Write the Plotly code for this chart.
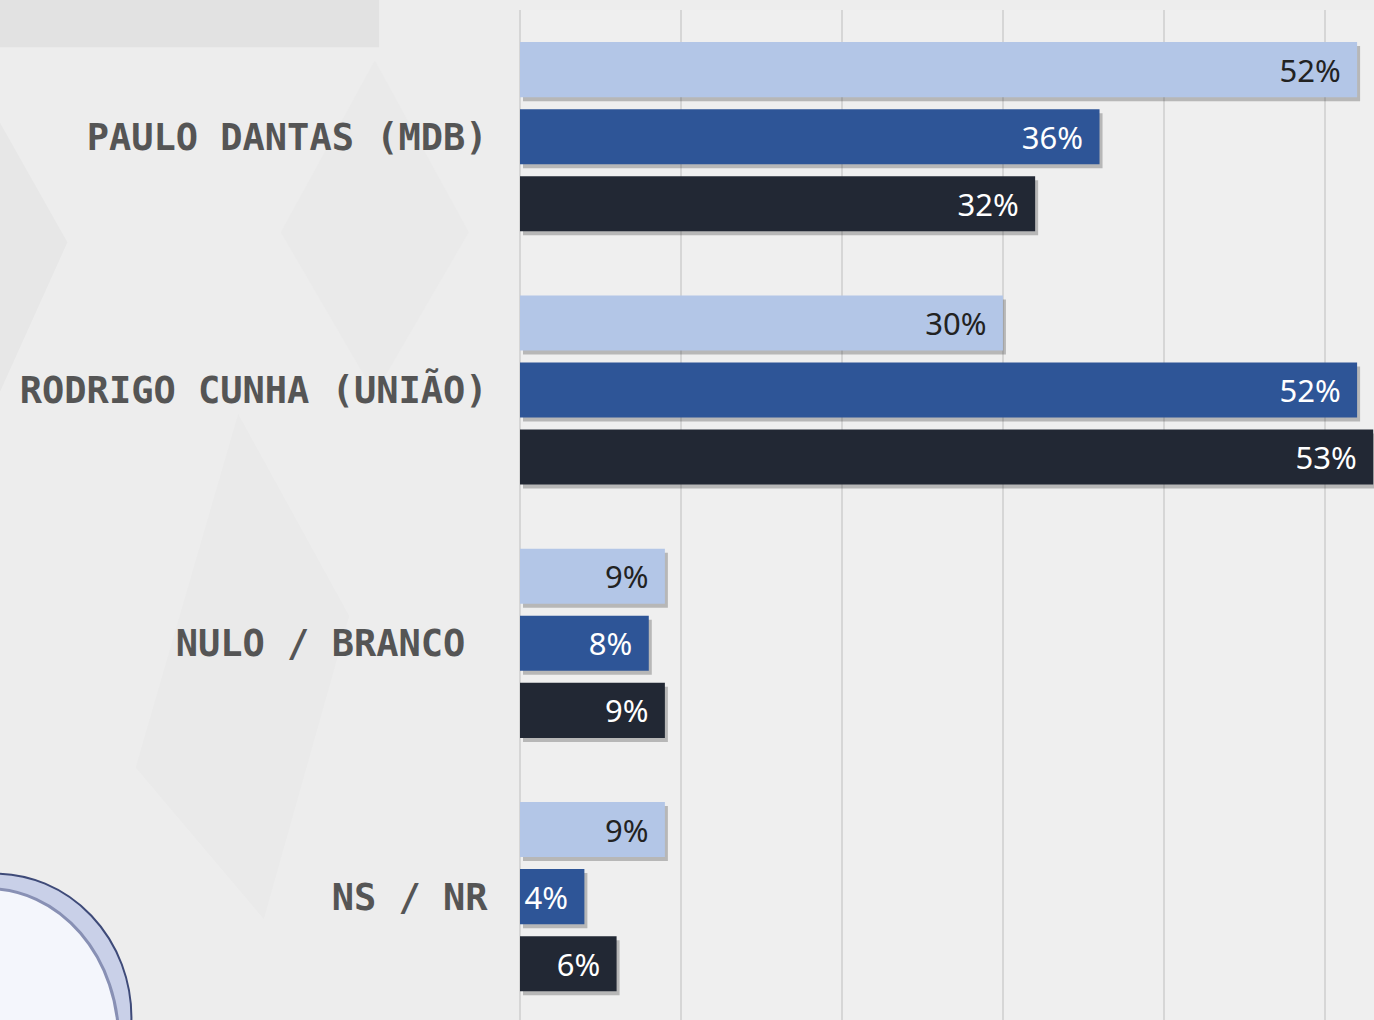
import plotly.graph_objects as go

categories = ["PAULO DANTAS (MDB)", "RODRIGO CUNHA (UNIÃO)", "NULO / BRANCO", "NS / NR"]
tick_labels = ["PAULO DANTAS (MDB)", "RODRIGO CUNHA (UNIÃO)", "NULO / BRANCO\u00a0", "NS / NR"]
series_names = ["Série 1", "Série 2", "Série 3"]
values_1 = [52, 30, 9, 9]
values_2 = [36, 52, 8, 4]
values_3 = [32, 53, 9, 6]

colors = ["#b3c6e7", "#2e5597", "#222834"]
text_colors = ["#222222", "#ffffff", "#ffffff"]

X_RANGE = [0, 53.05]
Y_RANGE = [3.487, -0.5]
PLOT_W, PLOT_H = 854, 1010
shadow_dx_px, shadow_dy_px = 3, 4
dx = shadow_dx_px * (X_RANGE[1] - X_RANGE[0]) / PLOT_W
dy = shadow_dy_px * (Y_RANGE[0] - Y_RANGE[1]) / PLOT_H

fig = go.Figure()

# decorative background shapes (watermark-like)
bg_shapes = [
    dict(type="rect", xref="paper", yref="paper", x0=-0.61, x1=-0.165, y0=0.963, y1=1.01,
         fillcolor="#e2e2e2", line_width=0, layer="below"),
    dict(type="path", xref="paper", yref="paper",
         path="M -0.61 0.89 L -0.53 0.77 L -0.61 0.62 Z",
         fillcolor="#e7e7e7", line_width=0, layer="below"),
    dict(type="path", xref="paper", yref="paper",
         path="M -0.28 0.78 L -0.17 0.95 L -0.06 0.78 L -0.17 0.62 Z",
         fillcolor="#eaeaea", line_width=0, layer="below"),
    dict(type="path", xref="paper", yref="paper",
         path="M -0.45 0.25 L -0.33 0.60 L -0.20 0.40 L -0.30 0.10 Z",
         fillcolor="#eaeaea", line_width=0, layer="below"),
]

# shadows (base axes, shifted)
for name, vals in zip(series_names, [values_1, values_2, values_3]):
    fig.add_trace(go.Bar(
        name=name + " sombra",
        y=categories,
        x=vals,
        orientation="h",
        marker=dict(color="rgba(40,40,40,0.28)", line=dict(width=0)),
        hoverinfo="skip",
        xaxis="x",
        yaxis="y",
    ))

# real bars (overlay axes)
for name, vals, c, tc in zip(series_names, [values_1, values_2, values_3], colors, text_colors):
    fig.add_trace(go.Bar(
        name=name,
        y=categories,
        x=vals,
        orientation="h",
        marker=dict(color=c, line=dict(width=0)),
        text=[f"{v}%\u2004\u200a" for v in vals],
        textposition="inside",
        insidetextanchor="end",
        constraintext="none",
        textfont=dict(family="Noto Sans, Open Sans, sans-serif", size=31, color=tc),
        hoverinfo="skip",
        xaxis="x2",
        yaxis="y2",
    ))

# logo-like sphere at bottom-left
logo_shapes = [
    dict(type="circle", xref="paper", yref="paper", x0=-0.775, x1=-0.455, y0=-0.14, y1=0.145,
         fillcolor="#c9d0e8", line=dict(color="#3e4a78", width=2), layer="above"),
    dict(type="circle", xref="paper", yref="paper", x0=-0.775, x1=-0.47, y0=-0.17, y1=0.13,
         fillcolor="#f4f6fc", line=dict(color="#8890b4", width=3), layer="above"),
]

fig.update_layout(
    width=1374,
    height=1020,
    margin=dict(l=520, r=0, t=10, b=0),
    paper_bgcolor="#ededed",
    plot_bgcolor="#efefef",
    barmode="group",
    bargap=0.206,
    bargroupgap=0.179,
    showlegend=False,
    shapes=bg_shapes + logo_shapes,
    xaxis=dict(
        range=[X_RANGE[0] - dx, X_RANGE[1] - dx],
        showgrid=False, zeroline=False, showticklabels=False, fixedrange=True,
    ),
    yaxis=dict(
        type="category",
        range=[Y_RANGE[0] - dy, Y_RANGE[1] - dy],
        showgrid=False, showticklabels=False, fixedrange=True,
    ),
    xaxis2=dict(
        overlaying="x",
        anchor="y2",
        side="bottom",
        range=X_RANGE,
        dtick=10,
        showgrid=True,
        gridcolor="#d6d6d6",
        gridwidth=2,
        zeroline=True,
        zerolinecolor="#d6d6d6",
        zerolinewidth=2,
        showticklabels=False,
        fixedrange=True,
    ),
    yaxis2=dict(
        overlaying="y",
        anchor="x2",
        side="left",
        type="category",
        range=Y_RANGE,
        tickmode="array",
        tickvals=categories,
        ticktext=tick_labels,
        ticks="outside",
        ticklen=24,
        tickcolor="rgba(0,0,0,0)",
        tickfont=dict(family="DejaVu Sans Mono", size=37, color="#555555", weight="bold"),
        showgrid=False,
        fixedrange=True,
    ),
)

fig.write_html(
    "out.html",
    config={"displayModeBar": False},
    post_script="document.body.style.margin='0';document.body.style.padding='0';document.body.style.overflow='hidden';",
)
